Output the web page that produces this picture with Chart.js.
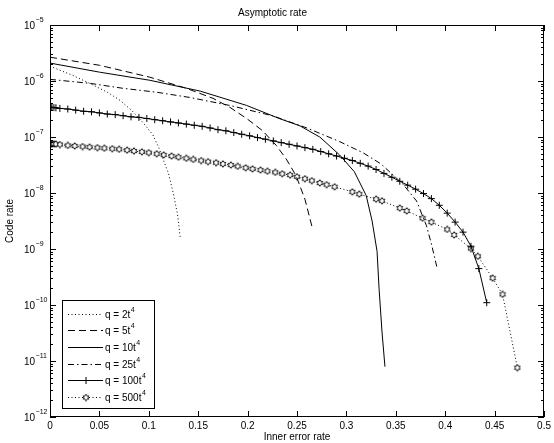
<!DOCTYPE html>
<html>
<head>
<meta charset="utf-8">
<script src="https://cdn.jsdelivr.net/npm/chart.js@4.4.0/dist/chart.umd.min.js"></script>
<style>
body { margin: 0; background: #fff; }
#wrap { width: 554px; height: 443px; }
</style>
</head>
<body>
<div id="wrap"><canvas id="rateChart"></canvas></div>
<script>
const qValues = ["2", "5", "10", "25", "100", "500"];
const xTickStep = 0.05;
const yDecades = [-12, -11, -10, -9, -8, -7, -6, -5];

// q = 2t^4
const x2 = [0, 0.023, 0.040, 0.058, 0.071, 0.083, 0.094, 0.104, 0.110, 0.115, 0.120, 0.125, 0.129, 0.132];
const rate2 = [1.84e-6, 1.26e-6, 9.1e-7, 6.3e-7, 4.5e-7, 2.95e-7, 1.82e-7, 1.1e-7, 6.5e-8, 3.8e-8, 2.2e-8, 9.5e-9, 4.2e-9, 1.5e-9];

// q = 5t^4
const x5 = [0, 0.050, 0.101, 0.138, 0.165, 0.182, 0.199, 0.215, 0.229, 0.239, 0.249, 0.258, 0.265];
const rate5 = [2.66e-6, 1.91e-6, 1.17e-6, 7.4e-7, 4.9e-7, 3.39e-7, 2.14e-7, 1.30e-7, 7.08e-8, 4.07e-8, 2.04e-8, 7.76e-9, 2.57e-9];

// q = 10t^4
const x10 = [0, 0.050, 0.101, 0.152, 0.199, 0.232, 0.253, 0.273, 0.293, 0.308, 0.320, 0.326, 0.331, 0.333, 0.336, 0.339];
const rate10 = [2.09e-6, 1.44e-6, 1.03e-6, 6.6e-7, 3.66e-7, 2.14e-7, 1.58e-7, 1.0e-7, 4.8e-8, 2.4e-8, 9.0e-9, 3.16e-9, 9.1e-10, 2.0e-10, 3.3e-11, 7.9e-12];

// q = 25t^4
const x25 = [0, 0.040, 0.074, 0.108, 0.141, 0.182, 0.225, 0.260, 0.293, 0.317, 0.335, 0.357, 0.371, 0.381, 0.386, 0.392];
const rate25 = [1.07e-6, 9.1e-7, 7.4e-7, 6.3e-7, 5.1e-7, 3.66e-7, 2.4e-7, 1.45e-7, 8.3e-8, 5.2e-8, 3.3e-8, 1.45e-8, 7.2e-9, 2.6e-9, 1.23e-9, 4.4e-10];

// q = 100t^4
const x100 = [0, 0.001, 0.002, 0.004, 0.006, 0.010, 0.018, 0.026, 0.034, 0.042, 0.050, 0.058, 0.066, 0.074, 0.082,
  0.090, 0.098, 0.106, 0.114, 0.122, 0.130, 0.138, 0.146, 0.154, 0.162, 0.170, 0.178, 0.186, 0.194, 0.202,
  0.210, 0.218, 0.226, 0.234, 0.242, 0.250, 0.258, 0.266, 0.274, 0.282, 0.290, 0.298, 0.306, 0.314, 0.322,
  0.330, 0.338, 0.346, 0.354, 0.362, 0.370, 0.378, 0.386, 0.394, 0.402, 0.410, 0.418, 0.426, 0.434, 0.442];
const rate100 = [3.39e-7, 3.38e-7, 3.37e-7, 3.35e-7, 3.32e-7, 3.24e-7, 3.16e-7, 3.02e-7, 2.88e-7, 2.82e-7, 2.69e-7, 2.57e-7, 2.51e-7, 2.40e-7, 2.29e-7,
  2.24e-7, 2.14e-7, 2.04e-7, 1.95e-7, 1.86e-7, 1.78e-7, 1.70e-7, 1.62e-7, 1.55e-7, 1.45e-7, 1.35e-7, 1.29e-7, 1.20e-7, 1.12e-7, 1.05e-7,
  9.77e-8, 9.12e-8, 8.51e-8, 7.94e-8, 7.41e-8, 6.92e-8, 6.46e-8, 6.03e-8, 5.50e-8, 5.01e-8, 4.57e-8, 4.17e-8, 3.80e-8, 3.39e-8, 3.02e-8,
  2.63e-8, 2.24e-8, 1.91e-8, 1.62e-8, 1.38e-8, 1.17e-8, 9.77e-9, 7.94e-9, 6.03e-9, 4.37e-9, 3.02e-9, 2.00e-9, 1.12e-9, 4.47e-10, 1.10e-10];

// q = 500t^4
const x500 = [0, 0.001, 0.002, 0.004, 0.006, 0.010, 0.018, 0.025, 0.033, 0.040, 0.048, 0.055, 0.063, 0.070, 0.078,
  0.085, 0.093, 0.100, 0.108, 0.115, 0.123, 0.130, 0.138, 0.145, 0.153, 0.160, 0.168, 0.175, 0.183, 0.190,
  0.198, 0.205, 0.213, 0.220, 0.228, 0.235, 0.243, 0.250, 0.258, 0.265, 0.273, 0.280, 0.288, 0.306, 0.313,
  0.330, 0.336, 0.354, 0.361, 0.377, 0.386, 0.402, 0.409, 0.426, 0.433, 0.448, 0.458, 0.473];
const rate500 = [7.59e-8, 7.57e-8, 7.55e-8, 7.52e-8, 7.48e-8, 7.33e-8, 7.08e-8, 6.92e-8, 6.76e-8, 6.61e-8, 6.46e-8, 6.31e-8, 6.17e-8, 6.03e-8, 5.82e-8,
  5.62e-8, 5.43e-8, 5.25e-8, 5.01e-8, 4.79e-8, 4.57e-8, 4.37e-8, 4.17e-8, 3.98e-8, 3.80e-8, 3.63e-8, 3.47e-8, 3.31e-8, 3.16e-8, 2.99e-8,
  2.82e-8, 2.69e-8, 2.57e-8, 2.45e-8, 2.34e-8, 2.21e-8, 2.09e-8, 1.95e-8, 1.80e-8, 1.66e-8, 1.51e-8, 1.41e-8, 1.29e-8, 1.05e-8, 9.55e-9,
  7.76e-9, 7.24e-9, 5.37e-9, 4.79e-9, 3.55e-9, 3.02e-9, 2.24e-9, 1.78e-9, 1.02e-9, 7.41e-10, 3.02e-10, 1.55e-10, 7.59e-12];

const FONT = "'Liberation Sans', Arial, Helvetica, sans-serif";
Chart.defaults.font.family = FONT;
Chart.defaults.color = "#000";

function toPoints(xs, ys) {
    return xs.map((x, i) => ({ x: x, y: ys[i] }));
}

// six-pointed star marker, like matlab's 'h'
function makeHexagram(size) {
    const c = document.createElement("canvas");
    c.width = size;
    c.height = size;
    const g = c.getContext("2d");
    const ro = size / 2 - 0.7;
    const ri = ro * 0.58;
    g.beginPath();
    for (let i = 0; i < 12; i++) {
        const r = i % 2 === 0 ? ro : ri;
        const ang = -Math.PI / 2 + i * Math.PI / 6;
        const px = size / 2 + r * Math.cos(ang);
        const py = size / 2 + r * Math.sin(ang);
        if (i === 0) g.moveTo(px, py); else g.lineTo(px, py);
    }
    g.closePath();
    g.fillStyle = "#fff";
    g.fill();
    g.strokeStyle = "#000";
    g.lineWidth = 0.9;
    g.stroke();
    return c;
}
const hexMarker = makeHexagram(8);

function lineSet(i, xs, ys, dash, extra) {
    return Object.assign({
        label: "q = " + qValues[i] + "t\u2074",
        data: toPoints(xs, ys),
        borderColor: "#000",
        backgroundColor: "#000",
        borderWidth: 1,
        borderDash: dash,
        pointRadius: 0,
        tension: 0,
        fill: false
    }, extra || {});
}

const datasets = [
    lineSet(0, x2, rate2, [1, 2.5]),
    lineSet(1, x5, rate5, [7, 4]),
    lineSet(2, x10, rate10, []),
    lineSet(3, x25, rate25, [6, 3, 1.5, 3]),
    lineSet(4, x100, rate100, [], { pointRadius: 3.5, pointStyle: "cross", pointBorderColor: "#000", pointBorderWidth: 1 }),
    lineSet(5, x500, rate500, [1, 2.5], { pointRadius: 4, pointStyle: hexMarker })
];

const framePlugin = {
    id: "frameAndLegend",
    afterDatasetsDraw(chart) {
        const ctx = chart.ctx;
        const a = chart.chartArea;
        const xs = chart.scales.x;
        const ys = chart.scales.y;
        ctx.save();
        ctx.strokeStyle = "#000";
        ctx.fillStyle = "#000";
        ctx.lineWidth = 1;
        ctx.setLineDash([]);

        // axes box
        ctx.strokeRect(Math.round(a.left) + 0.5, Math.round(a.top) + 0.5,
            Math.round(a.right - a.left) - 1, Math.round(a.bottom - a.top) - 1);

        // x ticks, inward on bottom and top
        ctx.beginPath();
        xs.ticks.forEach(t => {
            const px = Math.round(xs.getPixelForValue(t.value)) + 0.5;
            ctx.moveTo(px, a.bottom); ctx.lineTo(px, a.bottom - 6);
            ctx.moveTo(px, a.top); ctx.lineTo(px, a.top + 6);
        });
        // y ticks, majors and minors on both sides
        yDecades.forEach(e => {
            const py = Math.round(ys.getPixelForValue(Math.pow(10, e))) + 0.5;
            ctx.moveTo(a.left, py); ctx.lineTo(a.left + 6, py);
            ctx.moveTo(a.right, py); ctx.lineTo(a.right - 6, py);
            if (e < -5) {
                for (let m = 2; m <= 9; m++) {
                    const pm = Math.round(ys.getPixelForValue(m * Math.pow(10, e))) + 0.5;
                    ctx.moveTo(a.left, pm); ctx.lineTo(a.left + 3, pm);
                    ctx.moveTo(a.right, pm); ctx.lineTo(a.right - 3, pm);
                }
            }
        });
        ctx.stroke();

        // y tick labels as 10 with superscript exponent
        ctx.textAlign = "left";
        ctx.textBaseline = "middle";
        yDecades.forEach(e => {
            const py = ys.getPixelForValue(Math.pow(10, e));
            ctx.font = "10px " + FONT;
            ctx.fillText("10", 24, py + 1);
            const w = ctx.measureText("10").width;
            ctx.font = "7px " + FONT;
            ctx.fillText("\u2212" + Math.abs(e), 24 + w + 0.5, py - 5);
        });

        // legend box in lower left of the axes
        const lw = 92, lh = 108;
        const lx = Math.round(a.left) + 12;
        const ly = Math.round(a.bottom) - 9 - lh;
        ctx.fillStyle = "#fff";
        ctx.fillRect(lx, ly, lw, lh);
        ctx.strokeRect(lx + 0.5, ly + 0.5, lw, lh);
        chart.data.datasets.forEach((ds, i) => {
            const ry = Math.round(ly + 13.5 + i * 16.7) + 0.5;
            ctx.save();
            ctx.setLineDash(ds.borderDash || []);
            ctx.beginPath();
            ctx.moveTo(lx + 6, ry);
            ctx.lineTo(lx + 41, ry);
            ctx.stroke();
            ctx.restore();
            const mx = lx + 24;
            if (ds.pointStyle === "cross") {
                ctx.beginPath();
                ctx.moveTo(mx, ry - 3.5); ctx.lineTo(mx, ry + 3.5);
                ctx.moveTo(mx - 3.5, ry); ctx.lineTo(mx + 3.5, ry);
                ctx.stroke();
            } else if (ds.pointStyle === hexMarker) {
                ctx.drawImage(hexMarker, mx - hexMarker.width / 2, ry - hexMarker.height / 2);
            }
            ctx.fillStyle = "#000";
            ctx.font = "10px " + FONT;
            const base = "q = " + qValues[i] + "t";
            ctx.fillText(base, lx + 43, ry + 1);
            const bw = ctx.measureText(base).width;
            ctx.font = "7px " + FONT;
            ctx.fillText("4", lx + 43 + bw + 0.5, ry - 4);
        });
        ctx.restore();
    }
};

new Chart(document.getElementById("rateChart"), {
    type: "line",
    data: { datasets: datasets },
    plugins: [framePlugin],
    options: {
        responsive: true,
        maintainAspectRatio: false,
        animation: false,
        layout: { padding: { left: 0, right: 9, top: 0, bottom: 0 } },
        plugins: {
            legend: { display: false },
            tooltip: { enabled: false },
            title: {
                display: true,
                text: "Asymptotic rate",
                font: { size: 10, weight: "normal" },
                padding: { top: 7, bottom: 6 }
            }
        },
        scales: {
            x: {
                type: "linear",
                min: 0,
                max: 0.5,
                grid: { display: false, drawTicks: false, tickLength: 0 },
                border: { display: false },
                ticks: {
                    stepSize: xTickStep,
                    padding: 3,
                    maxRotation: 0,
                    autoSkip: false,
                    font: { size: 10 },
                    callback: v => String(+Number(v).toFixed(2))
                },
                title: { display: true, text: "Inner error rate", font: { size: 10 }, padding: 0 },
                afterFit: s => { s.height = 26; }
            },
            y: {
                type: "logarithmic",
                min: 1e-12,
                max: 1e-5,
                grid: { display: false, drawTicks: false },
                border: { display: false },
                ticks: { display: false },
                title: { display: true, text: "Code rate", font: { size: 10 }, padding: { top: 4, bottom: 0 } },
                afterFit: s => { s.width = 50; }
            }
        }
    }
});
</script>
</body>
</html>
